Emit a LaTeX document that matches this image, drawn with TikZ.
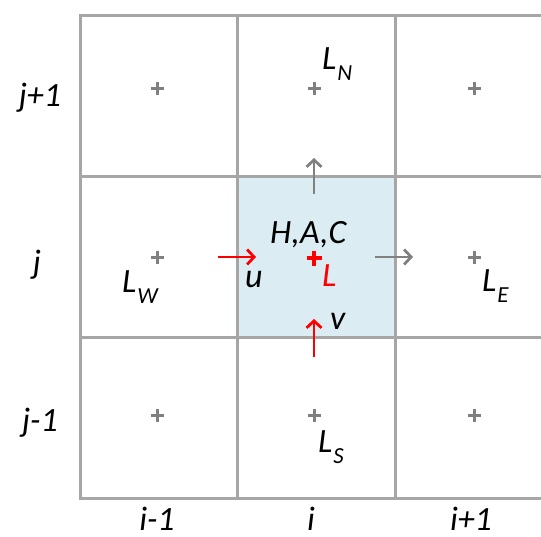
\documentclass[tikz,border=0pt]{standalone}
\usepackage{fontspec}
\setmainfont{Carlito}
\usetikzlibrary{arrows.meta}
\definecolor{gridgray}{RGB}{166,166,166}
\definecolor{markgray}{RGB}{128,128,128}
\definecolor{cellblue}{RGB}{219,237,243}
\definecolor{fluxred}{RGB}{255,0,0}
\newcommand\Lsub[1]{L\hspace{1pt}\raisebox{-11pt}{\fontsize{23}{23}\selectfont #1}}
\begin{document}
\begin{tikzpicture}[x=1pt,y=-1pt,
  gridline/.style={draw=gridgray, line width=3pt},
  cellmark/.style={draw=markgray, line width=3pt},
  redmark/.style={draw=fluxred, line width=3.2pt},
  grayflux/.style={draw=markgray, line width=2.8pt, -{Straight Barb[length=7pt,width=15pt]}},
  redflux/.style={draw=fluxred, line width=2.8pt, -{Straight Barb[length=7pt,width=15pt]}},
  biglabel/.style={inner sep=0pt, anchor=base, text depth=0pt, font=\fontsize{34}{34}\selectfont\itshape},
  midlabel/.style={inner sep=0pt, anchor=base west, font=\fontsize{34}{34}\selectfont\itshape},
  sublabel/.style={inner sep=0pt, anchor=base west, font=\fontsize{34}{34}\selectfont\itshape}
]
\useasboundingbox (0,0) rectangle (541,536);
\clip (0,0) rectangle (541,536);
% centre cell
\fill[cellblue] (237,176) rectangle (395,337);
% grid
\foreach \x in {80,237,395,553} \draw[gridline] (\x,15) -- (\x,498);
\foreach \y in {15,176,337,498} \draw[gridline] (78.5,\y) -- (560,\y);
% cell centres
\foreach \x/\c in {157/a,314/b,474/c}{
  \foreach \y/\r in {88/n,257/m,415/s}{
    \coordinate (p\c\r) at (\x,\y);
  }
}
\foreach \p in {pan,pbn,pcn,pam,pcm,pas,pbs,pcs}{
  \draw[cellmark] ([xshift=-6.5pt]\p) -- ([xshift=6.5pt]\p);
  \draw[cellmark] ([yshift=-6.5pt]\p) -- ([yshift=6.5pt]\p);
}
\draw[redmark] ([xshift=-7.5pt,yshift=-1pt]pbm) -- ([xshift=7.5pt,yshift=-1pt]pbm);
\draw[redmark] ([yshift=-8.5pt]pbm) -- ([yshift=6.5pt]pbm);
% flux arrows
\coordinate (nfrom) at (314,194);
\coordinate (nto) at (314,158);
\coordinate (efrom) at (375,257);
\coordinate (eto) at (413,257);
\coordinate (ufrom) at (218,257);
\coordinate (uto) at (256,257);
\coordinate (vfrom) at (314,357);
\coordinate (vto) at (314,319);
\draw[grayflux] (nfrom) -- (nto);
\draw[grayflux] (efrom) -- (eto);
\draw[redflux] (ufrom) -- (uto);
\draw[redflux] (vfrom) -- (vto);
% labels
\node[sublabel] (LN) at (322,69) {\Lsub{N}};
\node[sublabel] (LW) at (122,292) {\Lsub{W}};
\node[sublabel] (LE) at (482,291) {\Lsub{E}};
\node[sublabel] (LS) at (318,452) {\Lsub{S}};
\node[midlabel] (HAC) at (270,243) {H,A,C};
\node[midlabel, text=fluxred] (LL) at (322,286) {L};
\node[midlabel] (u) at (245,287) {u};
\node[midlabel] (v) at (330,329) {v};
% row / column indices
\node[biglabel] (jp) at (40,106) {j+1};
\node[biglabel] (j0) at (37,273) {j};
\node[biglabel] (jm) at (40,431) {j-1};
\node[biglabel] (im) at (157,530) {i-1};
\node[biglabel] (i0) at (311,530) {i};
\node[biglabel] (ip) at (471,530) {i+1};
\end{tikzpicture}
\end{document}
